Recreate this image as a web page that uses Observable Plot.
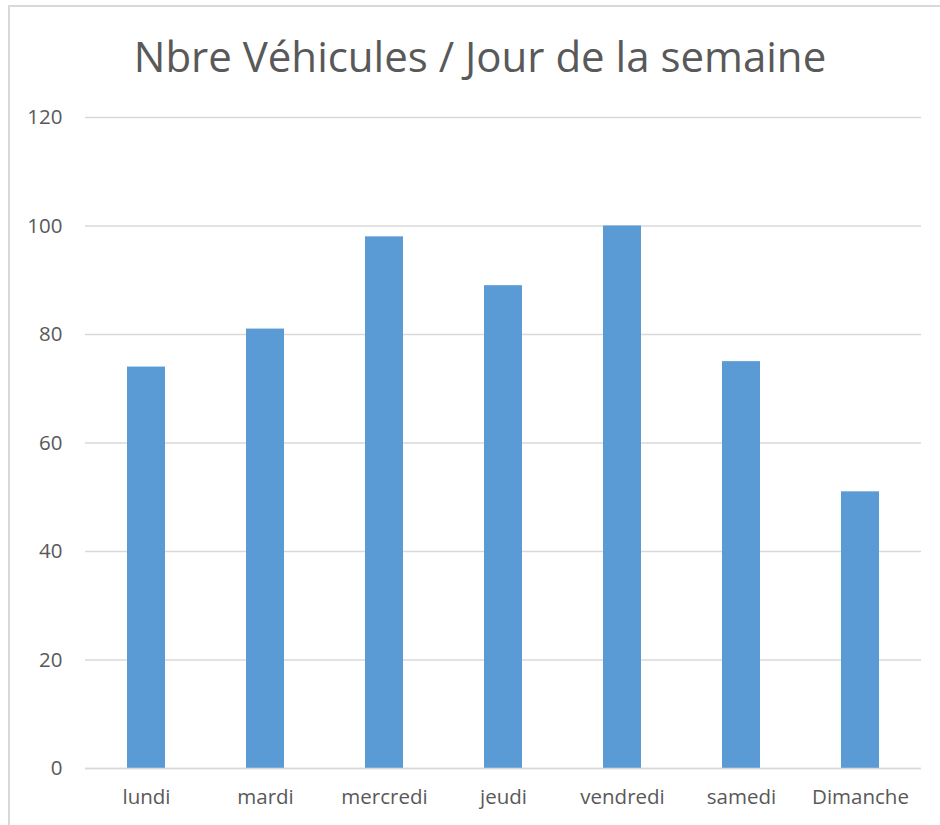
<!DOCTYPE html>
<html>
<head>
<meta charset="utf-8">
<script src="https://cdn.jsdelivr.net/npm/d3@7"></script>
<script src="https://cdn.jsdelivr.net/npm/@observablehq/plot@0.6"></script>
<style>
  html, body { margin: 0; padding: 0; background: #fff; }
  #wrap { position: relative; width: 940px; height: 825px; overflow: hidden; font-family: "Open Sans", sans-serif; }
  #frame { position: absolute; left: 8px; top: 5px; width: 960px; height: 850px; border: 2px solid #d9d9d9; box-sizing: border-box; }
  #title { position: absolute; left: 0; top: 31px; width: 960px; text-align: center; font-size: 42px; line-height: 1.2; color: #595959; white-space: nowrap; }
  #chart { position: absolute; left: 0; top: 0; }
</style>
</head>
<body>
<div id="wrap">
  <div id="frame"></div>
  <div id="title">Nbre Véhicules / Jour de la semaine</div>
  <div id="chart"></div>
</div>
<script>
const days = ["lundi", "mardi", "mercredi", "jeudi", "vendredi", "samedi", "Dimanche"];
const vehicles = [74, 81, 98, 89, 100, 75, 51];
const yTicks = [0, 20, 40, 60, 80, 100, 120];

const data = days.map((d, i) => ({day: d, value: vehicles[i]}));

const chart = Plot.plot({
  width: 940,
  height: 825,
  marginTop: 117,
  marginBottom: 57,
  marginLeft: 85,
  marginRight: 19,
  style: {fontFamily: "Open Sans, sans-serif", fontSize: "20.5px", color: "#595959", background: "transparent"},
  x: {domain: days, paddingInner: 0.68, paddingOuter: 0.34, label: null, tickSize: 0, tickPadding: 21},
  y: {domain: [0, 120], ticks: yTicks, label: null, tickSize: 0, tickPadding: 23},
  marks: [
    Plot.gridY(yTicks, {stroke: "#d9d9d9", strokeOpacity: 1, strokeWidth: 1.5}),
    Plot.barY(data, {x: "day", y: "value", fill: "#5b9bd5"}),
    Plot.ruleY([0], {stroke: "#d9d9d9", strokeWidth: 1.5})
  ]
});
document.getElementById("chart").appendChild(chart);
</script>
</body>
</html>
